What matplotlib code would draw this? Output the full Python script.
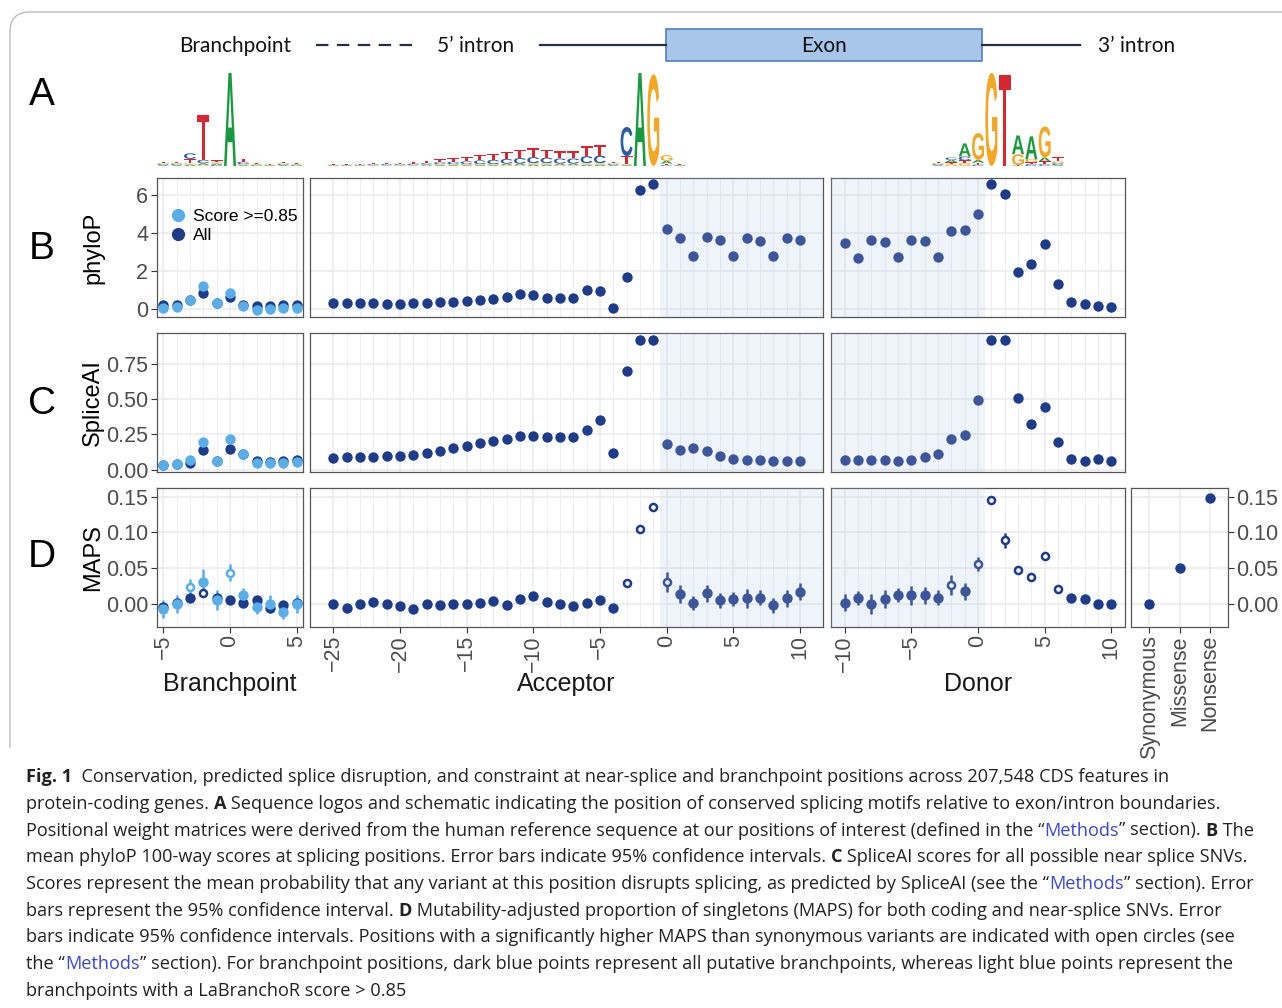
import numpy as np
import matplotlib
matplotlib.use("Agg")
import matplotlib.pyplot as plt
import matplotlib.transforms as mtransforms
from matplotlib.patches import PathPatch, Rectangle
from matplotlib.textpath import TextPath
from matplotlib.font_manager import FontProperties
from matplotlib.lines import Line2D
from matplotlib.path import Path

plt.rcParams["font.family"] = ["Liberation Sans", "DejaVu Sans"]

W, H, DPI = 1282, 1008, 100

# ----- positions -----
BP_POS = np.arange(-5, 6)
ACC_POS = np.arange(-25, 11)
DON_POS = np.arange(-10, 11)
CONSEQ = ["Synonymous", "Missense", "Nonsense"]
EXON_START, EXON_END = -0.5, 0.5   # acceptor / donor exon boundaries

# ----- B: phyloP -----
bp_phylop_all = [0.18, 0.18, 0.44, 0.84, 0.30, 0.61, 0.21, 0.14, 0.14, 0.18, 0.18]
bp_phylop_hi = [0.05, 0.09, 0.44, 1.19, 0.32, 0.84, 0.12, -0.09, -0.04, 0.05, 0.05]
acc_phylop = [0.30, 0.30, 0.30, 0.28, 0.26, 0.26, 0.28, 0.30, 0.33, 0.35, 0.39, 0.44,
              0.53, 0.61, 0.75, 0.72, 0.58, 0.54, 0.54, 0.96, 0.93, 0.04, 1.68, 6.23,
              6.53, 4.19, 3.70, 2.75, 3.75, 3.63, 2.79, 3.70, 3.56, 2.79, 3.72, 3.60]
don_phylop = [3.47, 2.68, 3.63, 3.51, 2.70, 3.61, 3.54, 2.74, 4.07, 4.11, 5.00,
              6.53, 6.02, 1.95, 2.37, 3.42, 1.28, 0.33, 0.23, 0.12, 0.07]

# ----- C: SpliceAI -----
bp_splice_all = [0.035, 0.040, 0.050, 0.137, 0.060, 0.149, 0.110, 0.059, 0.054, 0.059, 0.066]
bp_splice_hi = [0.031, 0.038, 0.071, 0.193, 0.059, 0.217, 0.113, 0.047, 0.047, 0.050, 0.052]
acc_splice = [0.085, 0.087, 0.090, 0.092, 0.094, 0.099, 0.106, 0.116, 0.134, 0.151, 0.167, 0.186,
              0.203, 0.217, 0.236, 0.238, 0.233, 0.233, 0.229, 0.278, 0.354, 0.118, 0.698, 0.922,
              0.922, 0.184, 0.139, 0.156, 0.132, 0.094, 0.073, 0.071, 0.068, 0.061, 0.061, 0.059]
don_splice = [0.071, 0.066, 0.066, 0.066, 0.064, 0.068, 0.092, 0.113, 0.217, 0.243, 0.493,
              0.917, 0.917, 0.505, 0.321, 0.446, 0.198, 0.078, 0.061, 0.078, 0.061]

# ----- D: MAPS -----
bp_maps_all = [-0.004, 0.002, 0.008, 0.016, 0.008, 0.006, 0.001, 0.005, -0.005, -0.001, 0.001]
bp_maps_all_err = [0.004, 0.004, 0.004, 0.006, 0.004, 0.004, 0.004, 0.004, 0.004, 0.004, 0.004]
bp_maps_all_open = [-2]
bp_maps_hi = [-0.007, 0.000, 0.024, 0.031, 0.006, 0.044, 0.013, -0.004, 0.000, -0.011, 0.000]
bp_maps_hi_err = [0.012, 0.012, 0.011, 0.018, 0.014, 0.012, 0.010, 0.010, 0.012, 0.010, 0.012]
bp_maps_hi_open = [-3, 0]
acc_maps = [0.000, -0.005, 0.000, 0.003, 0.000, -0.003, -0.007, 0.000, -0.002, 0.000, 0.000, 0.002,
            0.004, -0.001, 0.007, 0.011, 0.003, 0.000, -0.003, 0.002, 0.005, -0.006, 0.029, 0.105,
            0.136, 0.031, 0.014, 0.001, 0.015, 0.005, 0.007, 0.008, 0.009, -0.002, 0.008, 0.017]
acc_maps_err = [0.003] * 22 + [0.004, 0.005, 0.005, 0.014, 0.012, 0.010, 0.012, 0.011,
                               0.010, 0.013, 0.011, 0.010, 0.012, 0.012]
acc_maps_open = [-3, -2, -1, 0]
don_maps = [0.002, 0.008, 0.000, 0.007, 0.013, 0.012, 0.012, 0.009, 0.027, 0.018, 0.056,
            0.146, 0.089, 0.047, 0.038, 0.067, 0.021, 0.008, 0.007, 0.000, 0.000]
don_maps_err = [0.012, 0.010, 0.014, 0.012, 0.010, 0.013, 0.012, 0.010, 0.014, 0.012, 0.010,
                0.005, 0.010, 0.005, 0.005, 0.004, 0.004, 0.003, 0.003, 0.002, 0.002]
don_maps_open = [-2, 0, 1, 2, 3, 4, 5, 6]
cons_maps = [0.000, 0.050, 0.148]
cons_maps_err = [0.001, 0.001, 0.002]

# ----- A: sequence logos (bits) -----
BP_LOGO_POS = np.arange(-5, 6)
bp_logo = {
    "A": [0.02, 0.02, 0.03, 0.04, 0.03, 1.98, 0.02, 0.02, 0.01, 0.02, 0.02],
    "C": [0.02, 0.02, 0.12, 0.07, 0.02, 0.00, 0.05, 0.01, 0.01, 0.02, 0.01],
    "G": [0.02, 0.02, 0.03, 0.02, 0.03, 0.00, 0.02, 0.02, 0.01, 0.02, 0.02],
    "T": [0.02, 0.02, 0.09, 0.95, 0.04, 0.00, 0.06, 0.02, 0.01, 0.03, 0.02],
}
ACC_LOGO_POS = np.arange(-25, 2)
acc_logo = {
    "T": [0.02, 0.02, 0.02, 0.02, 0.03, 0.03, 0.04, 0.05, 0.06, 0.08, 0.09, 0.11, 0.13, 0.14,
          0.17, 0.19, 0.17, 0.15, 0.15, 0.21, 0.22, 0.02, 0.17, 0.00, 0.00, 0.03, 0.01],
    "C": [0.01, 0.01, 0.01, 0.02, 0.02, 0.02, 0.03, 0.03, 0.04, 0.05, 0.06, 0.08, 0.09, 0.10,
          0.12, 0.13, 0.12, 0.11, 0.11, 0.15, 0.16, 0.02, 0.62, 0.00, 0.00, 0.02, 0.01],
    "A": [0.01, 0.01, 0.01, 0.01, 0.01, 0.01, 0.01, 0.02, 0.02, 0.02, 0.02, 0.02, 0.02, 0.03,
          0.03, 0.03, 0.03, 0.03, 0.03, 0.03, 0.03, 0.02, 0.02, 1.98, 0.00, 0.06, 0.01],
    "G": [0.01, 0.01, 0.01, 0.01, 0.01, 0.01, 0.01, 0.01, 0.02, 0.02, 0.02, 0.02, 0.02, 0.02,
          0.02, 0.03, 0.03, 0.02, 0.02, 0.03, 0.03, 0.02, 0.02, 0.00, 1.95, 0.12, 0.01],
}
DON_LOGO_POS = np.arange(-3, 7)
don_logo = {
    "A": [0.02, 0.05, 0.28, 0.06, 0.00, 0.00, 0.40, 0.49, 0.08, 0.02],
    "C": [0.02, 0.05, 0.08, 0.03, 0.00, 0.00, 0.01, 0.04, 0.04, 0.04],
    "G": [0.02, 0.04, 0.06, 0.57, 1.98, 0.00, 0.23, 0.06, 0.66, 0.04],
    "T": [0.02, 0.04, 0.06, 0.04, 0.00, 1.94, 0.01, 0.04, 0.06, 0.09],
}
LOGO_COLORS = {"A": "#1a9a3e", "C": "#2c5ca8", "G": "#f5a623", "T": "#d7262f"}

# ----- styling -----
DARK = "#1e3c8c"
LIGHT = "#58aeea"
GRID = "#ebebeb"
TICK_TXT = "#4d4d4d"
PT_S = 56

PX_UNIT = 13.33
BP_XLIM, ACC_XLIM, DON_XLIM = (-5.5, 5.5), (-26.75, 11.75), (-11.0, 11.0)
COL_LEFT = {"bp": 156.7, "acc": 310.0, "don": 831.4}
COL_XLIM = {"bp": BP_XLIM, "acc": ACC_XLIM, "don": DON_XLIM}
CONS_X = (1131, 1228)
ROWS = {
    "B": dict(y=(178, 317), ylim=(-0.44, 6.87), ticks=[0, 2, 4, 6],
              labels=["0", "2", "4", "6"], title="phyloP"),
    "C": dict(y=(333, 471.7), ylim=(-0.014, 0.969), ticks=[0, 0.25, 0.5, 0.75],
              labels=["0.00", "0.25", "0.50", "0.75"], title="SpliceAI"),
    "D": dict(y=(487.7, 626.7), ylim=(-0.0317, 0.1626), ticks=[0, 0.05, 0.10, 0.15],
              labels=["0.00", "0.05", "0.10", "0.15"], title="MAPS"),
}


def px_rect(x0, y0, x1, y1):
    return [x0 / W, 1 - y1 / H, (x1 - x0) / W, (y1 - y0) / H]


def col_span(key):
    lo, hi = COL_XLIM[key]
    return COL_LEFT[key], COL_LEFT[key] + (hi - lo) * PX_UNIT


def style_panel(ax, xlim, row, xmajor, xminor):
    ax.set_xlim(xlim)
    ax.set_ylim(row["ylim"])
    ax.set_xticks(xmajor)
    ax.set_xticks(xminor, minor=True)
    ax.set_yticks(row["ticks"])
    ax.grid(which="major", color=GRID, lw=1.1)
    ax.grid(which="minor", axis="x", color=GRID, lw=0.6)
    ax.set_axisbelow(True)
    for s in ax.spines.values():
        s.set_color("#555555")
        s.set_linewidth(0.9)
    ax.tick_params(which="both", length=0, labelbottom=False, labelleft=False)


def maps_points(ax, x, y, err, open_pos, color):
    x, y, err = np.asarray(x), np.asarray(y), np.asarray(err)
    o = np.isin(x, open_pos)
    ax.errorbar(x, y, yerr=err, fmt="none", ecolor=color, elinewidth=1.8, capsize=0, zorder=3)
    ax.scatter(x[~o], y[~o], s=PT_S, color=color, linewidths=0, zorder=3.1)
    ax.scatter(x[o], y[o], s=26, facecolor="white", edgecolor=color, linewidths=1.8, zorder=3.2)


LOGO_FONT = FontProperties(family="Liberation Sans", weight="bold")


def draw_letter(ax, ch, x, y0, w, h):
    tp = TextPath((0, 0), ch, size=1, prop=LOGO_FONT)
    bb = tp.get_extents()
    tr = (mtransforms.Affine2D().translate(-bb.x0, -bb.y0)
          .scale(w / bb.width, h / bb.height).translate(x - w / 2, y0))
    ax.add_patch(PathPatch(tr.transform_path(tp), fc=LOGO_COLORS[ch], ec="none"))


def draw_logo(ax, positions, heights):
    for i, p in enumerate(positions):
        stack = sorted((heights[l][i], l) for l in "ACGT")
        y = 0.0
        for h, l in stack:
            if h > 0:
                draw_letter(ax, l, p, y, 0.9, h)
                y += h


fig = plt.figure(figsize=(W / DPI, H / DPI), dpi=DPI)
ov = fig.add_axes([0, 0, 1, 1])
ov.set_xlim(0, W)
ov.set_ylim(H, 0)
ov.axis("off")

# frame
frame = Path([(10, 748), (10, 32), (10, 12), (30, 12), (W + 5, 12)],
             [Path.MOVETO, Path.LINETO, Path.CURVE3, Path.CURVE3, Path.LINETO])
ov.add_patch(PathPatch(frame, fc="none", ec="#bdbdbd", lw=1.0))

# schematic
NAVY = "#243048"
ov.plot([316, 414], [45, 45], color=NAVY, lw=1.6, ls=(0, (5.6, 3.8)))
ov.plot([540, 666], [45, 45], color=NAVY, lw=1.6)
ov.plot([982, 1080], [45, 45], color=NAVY, lw=1.6)
ov.add_patch(Rectangle((666, 29), 316, 32, fc="#a8c5ea", ec="#4f7fbf", lw=1.2))
for txt, x in [("Branchpoint", 235), ("5\u2019 intron", 476), ("Exon", 824), ("3\u2019 intron", 1137)]:
    ov.text(x, 46, txt, ha="center", va="center", fontsize=15, family="Lato", color="#111111")

for lab, y in [("A", 95), ("B", 249), ("C", 404), ("D", 557)]:
    ov.text(42, y, lab, ha="center", va="center", fontsize=28, color="black")

# logos
for key, pos, heights in [("bp", BP_LOGO_POS, bp_logo), ("acc", ACC_LOGO_POS, acc_logo),
                          ("don", DON_LOGO_POS, don_logo)]:
    x0, x1 = col_span(key)
    lax = fig.add_axes(px_rect(x0, 72, x1, 166))
    lax.set_xlim(COL_XLIM[key])
    lax.set_ylim(0, 2)
    lax.axis("off")
    draw_logo(lax, pos, heights)

# data panels
COL_TICKS = {"bp": (np.arange(-5, 6, 5), BP_POS),
             "acc": (np.arange(-25, 11, 5), ACC_POS),
             "don": (np.arange(-10, 11, 5), DON_POS)}
SERIES = {
    "B": {"bp": [(bp_phylop_all, DARK), (bp_phylop_hi, LIGHT)], "acc": acc_phylop, "don": don_phylop},
    "C": {"bp": [(bp_splice_all, DARK), (bp_splice_hi, LIGHT)], "acc": acc_splice, "don": don_splice},
}
POS = {"bp": BP_POS, "acc": ACC_POS, "don": DON_POS}

for rkey, row in ROWS.items():
    y0, y1 = row["y"]
    for ckey in ["bp", "acc", "don"]:
        x0, x1 = col_span(ckey)
        ax = fig.add_axes(px_rect(x0, y0, x1, y1))
        style_panel(ax, COL_XLIM[ckey], row, *COL_TICKS[ckey])
        xlo, xhi = COL_XLIM[ckey]
        if ckey == "acc":
            ax.axvspan(EXON_START, xhi, color="#b1c3e6", alpha=0.2, lw=0, zorder=4)
        if ckey == "don":
            ax.axvspan(xlo, EXON_END, color="#b1c3e6", alpha=0.2, lw=0, zorder=4)

        if rkey in SERIES:
            if ckey == "bp":
                for vals, col in SERIES[rkey]["bp"]:
                    ax.scatter(POS[ckey], vals, s=PT_S, color=col, linewidths=0, zorder=3)
            else:
                ax.scatter(POS[ckey], SERIES[rkey][ckey], s=PT_S, color=DARK, linewidths=0, zorder=3)
        else:
            if ckey == "bp":
                maps_points(ax, BP_POS, bp_maps_all, bp_maps_all_err, bp_maps_all_open, DARK)
                maps_points(ax, BP_POS, bp_maps_hi, bp_maps_hi_err, bp_maps_hi_open, LIGHT)
            elif ckey == "acc":
                maps_points(ax, ACC_POS, acc_maps, acc_maps_err, acc_maps_open, DARK)
            else:
                maps_points(ax, DON_POS, don_maps, don_maps_err, don_maps_open, DARK)
            ax.tick_params(axis="x", which="major", length=4, width=0.8, color="#333333",
                           labelbottom=True, labelrotation=90, labelsize=15.5,
                           labelcolor=TICK_TXT, pad=2)
        if ckey == "bp":
            ax.set_yticklabels(row["labels"])
            ax.tick_params(axis="y", which="major", length=4, width=0.8, color="#333333",
                           labelleft=True, labelsize=15.5, labelcolor=TICK_TXT, pad=2)
            if rkey == "B":
                handles = [Line2D([0], [0], marker="o", ls="none", color=LIGHT, markersize=8.5),
                           Line2D([0], [0], marker="o", ls="none", color=DARK, markersize=8.5)]
                ax.legend(handles, ["Score >=0.85", "All"], loc="upper left",
                          bbox_to_anchor=(0.09, 0.78), frameon=False, fontsize=12.5,
                          handlelength=0.9, handletextpad=0.45, labelspacing=0.25,
                          borderaxespad=0, borderpad=0)
    ov.text(93, (y0 + y1) / 2, row["title"], rotation=90, ha="center", va="center",
            fontsize=17, color="black")

# consequence panel (MAPS reference)
cx = fig.add_axes(px_rect(CONS_X[0], ROWS["D"]["y"][0], CONS_X[1], ROWS["D"]["y"][1]))
cx.set_xlim(-0.6, 2.6)
cx.set_ylim(ROWS["D"]["ylim"])
cx.set_xticks(range(len(CONSEQ)))
cx.set_xticklabels(CONSEQ)
cx.set_yticks(ROWS["D"]["ticks"])
cx.set_yticklabels(ROWS["D"]["labels"])
cx.grid(which="major", color=GRID, lw=1.1)
cx.set_axisbelow(True)
for s in cx.spines.values():
    s.set_color("#555555")
    s.set_linewidth(0.9)
cx.errorbar(range(len(CONSEQ)), cons_maps, yerr=cons_maps_err, fmt="none", ecolor=DARK,
            elinewidth=1.6, zorder=3)
cx.scatter(range(len(CONSEQ)), cons_maps, s=PT_S, color=DARK, linewidths=0, zorder=3.1)
cx.yaxis.tick_right()
cx.tick_params(axis="both", length=4, width=0.8, color="#333333", labelsize=15.5,
               labelcolor=TICK_TXT, pad=2)
cx.tick_params(axis="x", labelrotation=90)

for txt, key in [("Branchpoint", "bp"), ("Acceptor", "acc"), ("Donor", "don")]:
    x0, x1 = col_span(key)
    ov.text((x0 + x1) / 2, 684, txt, ha="center", va="center", fontsize=18, color="#1a1a1a")

# caption
CAPTION = [
    [("Fig. 1", "b"), ("  Conservation, predicted splice disruption, and constraint at near-splice and branchpoint positions across 207,548 CDS features in", "")],
    [("protein-coding genes. ", ""), ("A", "b"), (" Sequence logos and schematic indicating the position of conserved splicing motifs relative to exon/intron boundaries.", "")],
    [("Positional weight matrices were derived from the human reference sequence at our positions of interest (defined in the \u201c", ""), ("Methods", "l"), ("\u201d section). ", ""), ("B", "b"), (" The", "")],
    [("mean phyloP 100-way scores at splicing positions. Error bars indicate 95% confidence intervals. ", ""), ("C", "b"), (" SpliceAI scores for all possible near splice SNVs.", "")],
    [("Scores represent the mean probability that any variant at this position disrupts splicing, as predicted by SpliceAI (see the \u201c", ""), ("Methods", "l"), ("\u201d section). Error", "")],
    [("bars represent the 95% confidence interval. ", ""), ("D", "b"), (" Mutability-adjusted proportion of singletons (MAPS) for both coding and near-splice SNVs. Error", "")],
    [("bars indicate 95% confidence intervals. Positions with a significantly higher MAPS than synonymous variants are indicated with open circles (see", "")],
    [("the \u201c", ""), ("Methods", "l"), ("\u201d section). For branchpoint positions, dark blue points represent all putative branchpoints, whereas light blue points represent the", "")],
    [("branchpoints with a LaBranchoR score > 0.85", "")],
]
renderer = fig.canvas.get_renderer()
CAP_KW = dict(fontsize=13.1, family="Open Sans", va="baseline", ha="left")


def text_width(s, weight):
    t = ov.text(0, 0, s + "|", fontweight=weight, **CAP_KW)
    bar = ov.text(0, 0, "|", fontweight=weight, **CAP_KW)
    w = t.get_window_extent(renderer).width - bar.get_window_extent(renderer).width
    t.remove()
    bar.remove()
    return w


for i, line in enumerate(CAPTION):
    x = 26
    yb = 782 + 26.75 * i
    for s, style in line:
        weight = "bold" if style == "b" else "normal"
        color = "#3b47d0" if style == "l" else "#222222"
        ov.text(x, yb, s, fontweight=weight, color=color, **CAP_KW)
        x += text_width(s, weight)

fig.savefig("out.png", dpi=DPI, facecolor="white")
